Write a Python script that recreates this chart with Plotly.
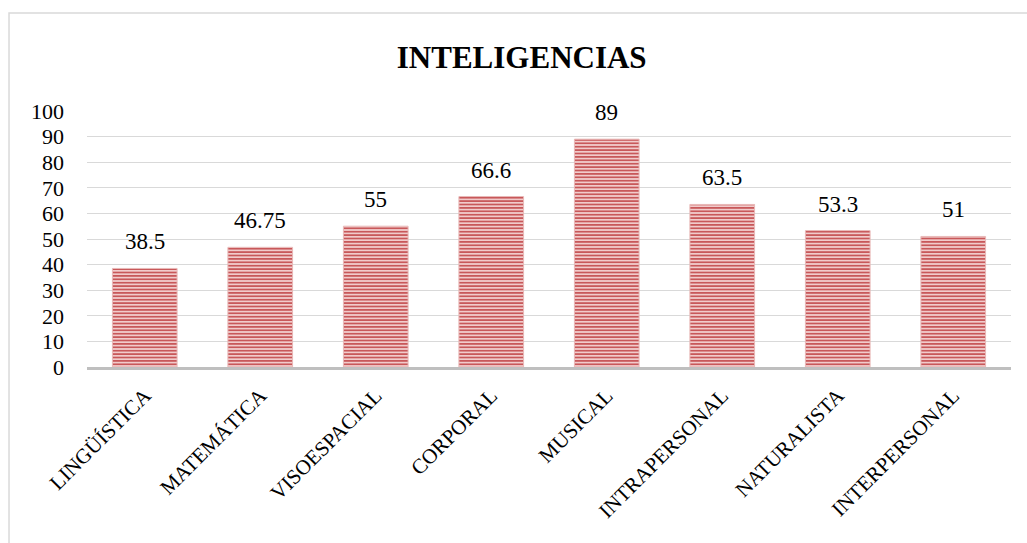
import plotly.graph_objects as go

categories = ["LINGÜÍSTICA", "MATEMÁTICA", "VISOESPACIAL", "CORPORAL",
              "MUSICAL", "INTRAPERSONAL", "NATURALISTA", "INTERPERSONAL"]
values = [38.5, 46.75, 55, 66.6, 89, 63.5, 53.3, 51]
value_labels = ["38.5", "46.75", "55", "66.6", "89", "63.5", "53.3", "51"]
y_ticks = [0, 10, 20, 30, 40, 50, 60, 70, 80, 90, 100]

FONT = "Liberation Serif"

fig = go.Figure()
fig.add_trace(go.Bar(
    x=categories,
    y=values,
    width=0.56,
    marker=dict(
        color="#C0504D",
        line=dict(color="#E8B8B7", width=1),
        pattern=dict(shape="-", fgcolor="#C8585A", bgcolor="#F6D8D8",
                     size=3.4, solidity=0.55, fillmode="replace"),
    ),
    hoverinfo="x+y",
))

for c, v, t in zip(categories, values, value_labels):
    fig.add_annotation(x=c, y=v, text=t, showarrow=False, yanchor="bottom",
                       yshift=12, font=dict(family=FONT, size=23, color="#000000"))

fig.add_shape(type="rect", xref="paper", yref="paper",
              x0=-0.0844, x1=1.05, y0=-0.8, y1=1.383,
              line=dict(color="#D9D9D9", width=1.5), fillcolor="rgba(0,0,0,0)",
              layer="below")

fig.update_layout(
    width=1027, height=543,
    paper_bgcolor="white", plot_bgcolor="white",
    margin=dict(l=87, r=16, t=111, b=176),
    showlegend=False,
    bargap=0.44,
    title=dict(text="<b>INTELIGENCIAS</b>", x=0.508, xanchor="center",
               y=0.895, yanchor="middle",
               font=dict(family=FONT, size=31, color="#000000")),
    xaxis=dict(
        showline=True, linecolor="#BFBFBF", linewidth=3,
        tickangle=-45, ticks="outside", ticklen=5, tickcolor="rgba(0,0,0,0)",
        tickfont=dict(family=FONT, size=21, color="#000000"),
        showgrid=False,
    ),
    yaxis=dict(
        range=[0, 100], tickvals=y_ticks,
        showgrid=True, gridcolor="#D9D9D9", gridwidth=1,
        zeroline=False, showline=False, ticks="",
        ticklabelstandoff=22,
        tickfont=dict(family=FONT, size=22, color="#000000"),
    ),
)

fig.write_html("out.html",
               config={"displayModeBar": False},
               post_script="document.body.style.margin='0';document.body.style.padding='0';")
